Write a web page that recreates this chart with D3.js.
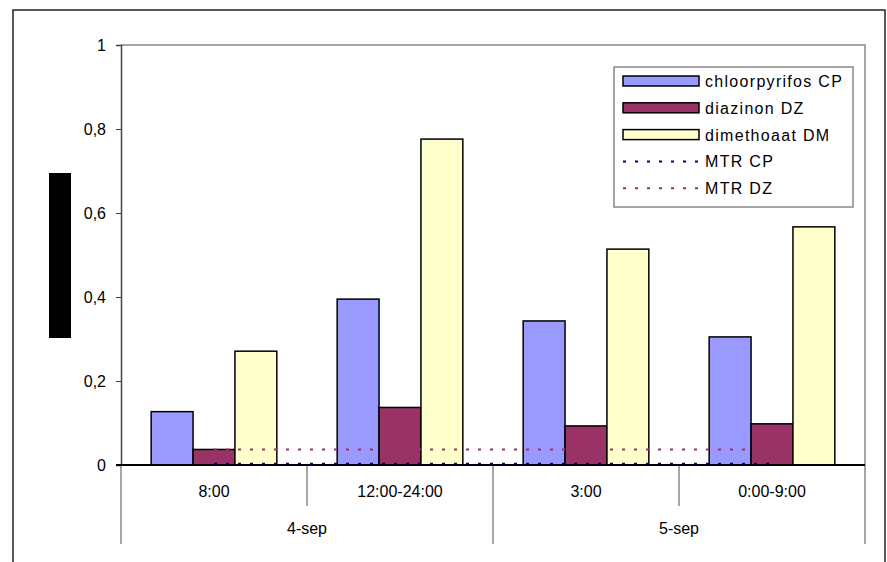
<!DOCTYPE html>
<html>
<head>
<meta charset="utf-8">
<script src="https://cdn.jsdelivr.net/npm/d3@7"></script>
<style>
  body { margin: 0; background: #fff; }
  svg { display: block; font-family: "Liberation Sans", Arial, sans-serif; }
</style>
</head>
<body>
<svg id="chart" width="887" height="562"></svg>
<script>
// chart values
let categories = ["8:00", "12:00-24:00", "3:00", "0:00-9:00"];
let categoryDates = ["4-sep", "4-sep", "5-sep", "5-sep"];
let dates = ["4-sep", "5-sep"];
let seriesNames = ["chloorpyrifos CP", "diazinon DZ", "dimethoaat DM"];
let cpValues = [0.127, 0.395, 0.343, 0.305];
let dzValues = [0.037, 0.137, 0.093, 0.098];
let dmValues = [0.271, 0.776, 0.514, 0.567];
let mtrNames = ["MTR CP", "MTR DZ"];
let mtrCp = [0.003, 0.003, 0.003, 0.003];
let mtrDz = [0.037, 0.037, 0.037, 0.037];
let yTicks = [0, 0.2, 0.4, 0.6, 0.8, 1];

let barColors = ["#9999FF", "#993366", "#FFFFCC"];
let lineColors = ["#000080", "#993366"];

let svg = d3.select("#chart");
let [plotLeft, plotRight, plotTop, plotBottom] = [121, 865, 45, 465];

// outer frame
svg.append("rect")
    .attr("x", 13).attr("y", 10).attr("width", 872).attr("height", 580)
    .attr("fill", "none").attr("stroke", "#222").attr("stroke-width", 1.5);

let y = d3.scaleLinear().domain([0, 1]).range([plotBottom, plotTop]);
let x0 = d3.scaleBand().domain(categories).range([plotLeft, plotRight]).paddingInner(0);
let x1 = d3.scaleBand().domain(seriesNames).range([0, x0.bandwidth()]).paddingInner(0).paddingOuter(0.72);

// plot area top and right edges
svg.append("path")
    .attr("d", `M${plotLeft},${plotTop}H${plotRight}V${plotBottom}`)
    .attr("fill", "none").attr("stroke", "#888").attr("stroke-width", 1.5);

// y axis
let yAxis = svg.append("g")
    .attr("transform", `translate(${plotLeft},0)`)
    .call(d3.axisLeft(y).tickValues(yTicks).tickSize(5).tickPadding(10)
        .tickFormat(d => d3.format("~g")(d).replace(".", ",")));
yAxis.select(".domain").attr("stroke", "#444").attr("stroke-width", 1.5);
yAxis.selectAll(".tick line").attr("stroke", "#444");
yAxis.selectAll("text").attr("font-size", 16).attr("fill", "#000")
    .attr("font-family", "Liberation Sans, Arial, sans-serif");

// y axis title (rendered as a solid block in the original)
svg.append("rect")
    .attr("x", 49).attr("y", 173).attr("width", 22).attr("height", 165)
    .attr("fill", "#000");

// bars
let seriesValues = [cpValues, dzValues, dmValues];
let barData = [];
categories.forEach((c, i) => {
    seriesNames.forEach((s, j) => {
        barData.push({category: c, series: s, value: seriesValues[j][i], color: barColors[j]});
    });
});

svg.append("g").selectAll("rect")
    .data(barData)
    .enter()
    .append("rect")
    .attr("x", d => x0(d.category) + x1(d.series))
    .attr("y", d => y(d.value))
    .attr("width", x1.bandwidth())
    .attr("height", d => y(0) - y(d.value))
    .attr("fill", d => d.color)
    .attr("stroke", "#000")
    .attr("stroke-width", 1.5);

// category axis lines
let catAxis = svg.append("g").attr("stroke", "#888").attr("stroke-width", 1.5);
categories.forEach((c, i) => {
    let xPos = x0(c);
    let isGroupEdge = i === 0 || categoryDates[i] !== categoryDates[i - 1];
    catAxis.append("line")
        .attr("x1", xPos).attr("x2", xPos)
        .attr("y1", plotBottom).attr("y2", isGroupEdge ? 544 : 506);
});
catAxis.append("line")
    .attr("x1", plotRight).attr("x2", plotRight)
    .attr("y1", plotBottom).attr("y2", 544);

svg.append("line")
    .attr("x1", plotLeft - 5).attr("x2", plotRight)
    .attr("y1", plotBottom).attr("y2", plotBottom)
    .attr("stroke", "#000").attr("stroke-width", 2);

svg.append("g").selectAll("text")
    .data(categories)
    .enter()
    .append("text")
    .attr("x", d => x0(d) + x0.bandwidth() / 2)
    .attr("y", 497)
    .attr("text-anchor", "middle")
    .attr("font-size", 16)
    .text(d => d);

svg.append("g").selectAll("text")
    .data(dates)
    .enter()
    .append("text")
    .attr("x", d => {
        let cats = categories.filter((c, i) => categoryDates[i] === d);
        return (x0(cats[0]) + x0(cats[cats.length - 1]) + x0.bandwidth()) / 2;
    })
    .attr("y", 534)
    .attr("text-anchor", "middle")
    .attr("font-size", 16)
    .text(d => d);

// MTR dotted lines
let line = d3.line()
    .x((d, i) => x0(categories[i]) + x0.bandwidth() / 2)
    .y(d => y(d));

[mtrCp, mtrDz].forEach((vals, k) => {
    svg.append("path")
        .attr("d", line(vals))
        .attr("fill", "none")
        .attr("stroke", lineColors[k])
        .attr("stroke-width", 2)
        .attr("stroke-dasharray", "3,9");
});

// legend
let legend = svg.append("g").attr("transform", "translate(614,67)");
legend.append("rect")
    .attr("width", 239).attr("height", 140)
    .attr("fill", "#fff").attr("stroke", "#888").attr("stroke-width", 1.5);

let legendItems = seriesNames.map((s, i) => ({name: s, type: "bar", color: barColors[i]}))
    .concat(mtrNames.map((s, i) => ({name: s, type: "line", color: lineColors[i]})));

let legendRows = legend.selectAll("g.item")
    .data(legendItems)
    .enter()
    .append("g")
    .attr("class", "item")
    .attr("transform", (d, i) => `translate(0,${14 + i * 26.8})`);

legendRows.filter(d => d.type === "bar")
    .append("rect")
    .attr("x", 9).attr("y", -5).attr("width", 76).attr("height", 10)
    .attr("fill", d => d.color).attr("stroke", "#000").attr("stroke-width", 1.5);

legendRows.filter(d => d.type === "line")
    .append("line")
    .attr("x1", 9).attr("x2", 85).attr("y1", 0).attr("y2", 0)
    .attr("stroke", d => d.color).attr("stroke-width", 2)
    .attr("stroke-dasharray", "3,9");

legendRows.append("text")
    .attr("x", 91).attr("y", 6)
    .attr("font-size", 16)
    .attr("letter-spacing", 1.3)
    .text(d => d.name);
</script>
</body>
</html>
